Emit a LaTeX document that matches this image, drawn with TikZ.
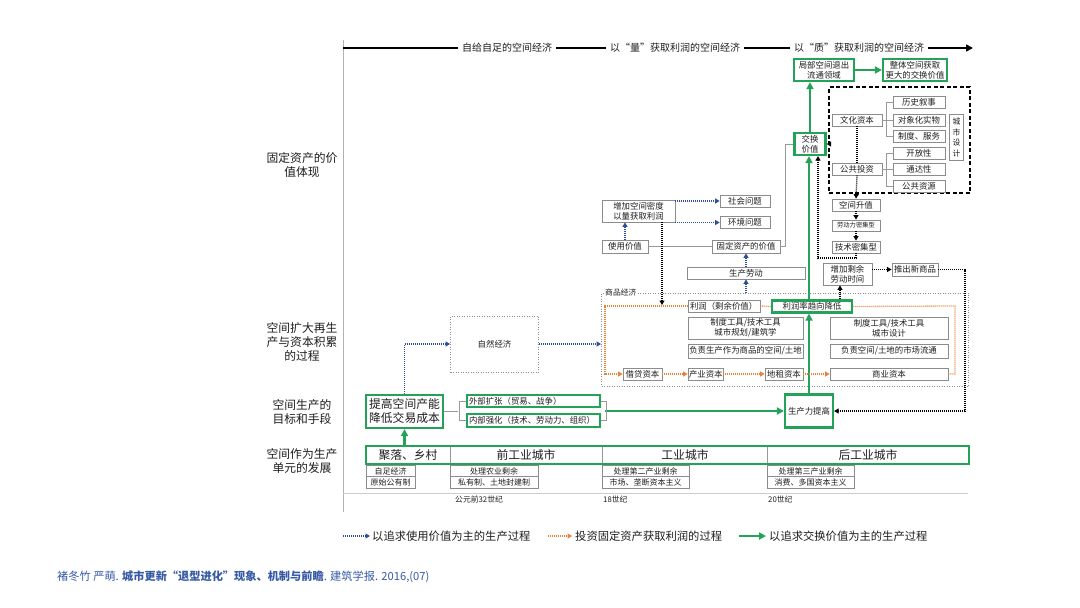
\documentclass[tikz,border=0pt]{standalone}
\usepackage{fontspec}
\setmainfont{Noto Sans CJK SC}
\usetikzlibrary{arrows.meta}
\definecolor{gn}{RGB}{35,163,88}
\definecolor{bl}{RGB}{45,80,150}
\definecolor{og}{RGB}{236,128,52}
\definecolor{tx}{RGB}{30,30,30}
\definecolor{citec}{RGB}{55,90,165}
\tikzset{
 box/.style={draw=black!45, line width=0.8pt, fill=white, inner sep=0pt, align=center, text=tx, font=\fontsize{8.4}{10}\selectfont},
 gbox/.style={draw=gn, line width=2.2pt, fill=white, inner sep=0pt, align=center, text=tx, font=\fontsize{8.4}{10}\selectfont},
 smallbox/.style={box, font=\fontsize{8}{9.5}\selectfont},
 tinyfont/.style={font=\fontsize{6.3}{7.5}\selectfont},
 bigfont/.style={font=\fontsize{11.8}{14}\selectfont},
 rowlab/.style={align=center, text=tx, font=\fontsize{11.8}{14}\selectfont},
 axlab/.style={fill=white, inner xsep=4pt, inner ysep=1pt, text=tx, font=\fontsize{10}{12}\selectfont},
 legfont/.style={text=tx, font=\fontsize{11.3}{13}\selectfont, inner sep=1pt},
 stip/.style={-{Triangle[length=4.5pt,width=5pt]}},
 gtip/.style={-{Triangle[length=7pt,width=7pt]}},
 bdot/.style={bl, line width=1.3pt, dash pattern=on 1pt off 1pt},
 kdot/.style={black, line width=1.3pt, dash pattern=on 1pt off 1pt},
 odot/.style={og, line width=1.3pt, dash pattern=on 1pt off 1pt},
 garr/.style={gn, line width=2.2pt},
 gline/.style={black!40, line width=0.7pt},
}
\begin{document}
\begin{tikzpicture}[x=1pt,y=-1pt]
\fill[white] (0,0) rectangle (1080,608);
\useasboundingbox (0,0) rectangle (1080,608);

% ---- frame lines
\draw[black!30, line width=0.8pt] (343,40) -- (343,512);
\coordinate (ax0) at (343,48);
\coordinate (ax1) at (973,48);
\draw[line width=1.6pt, gtip] (ax0) -- (ax1);
\node[axlab] (a1) at (507,48) {自给自足的空间经济};
\node[axlab] (a2) at (675,48) {以“量”获取利润的空间经济};
\node[axlab] (a3) at (859,48) {以“质”获取利润的空间经济};

% ---- row labels
\node[rowlab] (r1) at (302,165) {固定资产的价\\值体现};
\node[rowlab] (r2) at (302,342) {空间扩大再生\\产与资本积累\\的过程};
\node[rowlab] (r3) at (302,412) {空间生产的\\目标和手段};
\node[rowlab] (r4) at (302,461) {空间作为生产\\单元的发展};

% ---- top right
\node[gbox, minimum width=60pt, minimum height=22pt] (loc) at (824,70) {局部空间退出\\流通领域};
\node[gbox, minimum width=64pt, minimum height=22pt] (whole) at (915,70) {整体空间获取\\更大的交换价值};
\node[draw, line width=1.3pt, dash pattern=on 4pt off 2.5pt, minimum width=141pt, minimum height=106pt, inner sep=0pt] (cityd) at (899.5,140) {};
\node[box, minimum width=50pt, minimum height=12pt] (cult) at (857,120) {文化资本};
\node[box, minimum width=52pt, minimum height=12pt] (hist) at (919,102) {历史叙事};
\node[box, minimum width=52pt, minimum height=12pt] (obj) at (919,120) {对象化实物};
\node[box, minimum width=52pt, minimum height=12pt] (inst) at (919,136) {制度、服务};
\node[box, minimum width=50pt, minimum height=12pt] (pub) at (857,169) {公共投资};
\node[box, minimum width=52pt, minimum height=12pt] (open) at (919,153) {开放性};
\node[box, minimum width=52pt, minimum height=12pt] (acc) at (919,169) {通达性};
\node[box, minimum width=52pt, minimum height=12pt] (res) at (919,186) {公共资源};
\node[box, minimum width=14pt, minimum height=46pt, font=\fontsize{7.8}{10.5}\selectfont] (ud) at (956.5,137.5) {城\\市\\设\\计};
\node[gbox, minimum width=31pt, minimum height=22pt] (exch) at (810,144) {交换\\价值};

\node[box, minimum width=48pt, minimum height=12pt] (rise) at (856,205) {空间升值};
\node[box, minimum width=48pt, minimum height=11pt, tinyfont] (lab) at (856,225.5) {劳动力密集型};
\node[box, minimum width=48pt, minimum height=12pt] (tech) at (856,247) {技术密集型};
\node[box, minimum width=49pt, minimum height=22pt] (surp) at (847.5,274) {增加剩余\\劳动时间};
\node[box, minimum width=46pt, minimum height=13pt] (newp) at (915,269.5) {推出新商品};

% ---- middle
\node[box, minimum width=73pt, minimum height=22pt] (dens) at (638.5,211) {增加空间密度\\以量获取利润};
\node[box, minimum width=50pt, minimum height=12pt] (soc) at (745,201) {社会问题};
\node[box, minimum width=50pt, minimum height=12pt] (env) at (745,222.5) {环境问题};
\node[box, minimum width=46pt, minimum height=13pt] (use) at (625,246.5) {使用价值};
\node[box, minimum width=68pt, minimum height=13pt] (fix) at (746,246.5) {固定资产的价值};
\node[box, minimum width=118pt, minimum height=12pt] (lab2) at (746,273) {生产劳动};

% ---- commodity economy
\node[draw=black!45, line width=0.8pt, dash pattern=on 1pt off 1.5pt, minimum width=367pt, minimum height=93pt, inner sep=0pt] (sp) at (785,339.5) {};
\node[fill=white, inner sep=1pt, anchor=west, text=tx, font=\fontsize{7.8}{9}\selectfont] (splab) at (604,293) {商品经济};
\node[box, minimum width=72pt, minimum height=12pt, text width=68pt, align=left] (prof) at (724,306) {利润（剩余价值）};
\node[gbox, minimum width=80pt, minimum height=12pt] (fall) at (812,306.5) {利润率趋向降低};
\node[box, minimum width=115pt, minimum height=22pt] (tool1) at (745.5,328) {制度工具/技术工具\\城市规划/建筑学};
\node[box, minimum width=115pt, minimum height=14pt] (resp1) at (745.5,351) {负责生产作为商品的空间/土地};
\node[box, minimum width=118pt, minimum height=22pt] (tool2) at (889,328) {制度工具/技术工具\\城市设计};
\node[box, minimum width=118pt, minimum height=14pt] (resp2) at (889,351) {负责空间/土地的市场流通};
\node[box, minimum width=39pt, minimum height=12pt] (loan) at (642.5,374) {借贷资本};
\node[box, minimum width=35pt, minimum height=12pt, text width=33pt, align=left] (ind) at (705.5,374) {产业资本};
\node[box, minimum width=38pt, minimum height=12pt] (rent) at (784,374) {地租资本};
\node[box, minimum width=118pt, minimum height=12pt] (com) at (889,374) {商业资本};

% ---- lower
\node[draw=black!45, line width=0.8pt, dash pattern=on 1pt off 1.5pt, minimum width=88pt, minimum height=56pt, inner sep=0pt, text=tx, font=\fontsize{8.4}{10}\selectfont] (nat) at (494.5,344) {自然经济};
\node[gbox, minimum width=77pt, minimum height=33pt, bigfont] (goal) at (404.5,411.5) {提高空间产能\\降低交易成本};
\node[gbox, minimum width=133pt, minimum height=12pt, text width=129pt, align=left] (ext) at (533.5,401) {外部扩张（贸易、战争）};
\node[gbox, minimum width=133pt, minimum height=13pt, text width=129pt, align=left] (int) at (533.5,420.5) {内部强化（技术、劳动力、组织）};
\node[gbox, minimum width=48pt, minimum height=33pt] (prod) at (809,411) {生产力提高};

% ---- bottom bar
\node[draw=gn, line width=2.2pt, minimum width=603pt, minimum height=18pt, inner sep=0pt] (bar) at (667.5,455) {};
\coordinate (d1t) at (450,447); \coordinate (d1b) at (450,463);
\coordinate (d2t) at (602,447); \coordinate (d2b) at (602,463);
\coordinate (d3t) at (767,447); \coordinate (d3b) at (767,463);
\draw[gline] (d1t) -- (d1b);
\draw[gline] (d2t) -- (d2b);
\draw[gline] (d3t) -- (d3b);
\node[text=tx, bigfont] (s1) at (408,455) {聚落、乡村};
\node[text=tx, bigfont] (s2) at (526,455) {前工业城市};
\node[text=tx, bigfont] (s3) at (685,455) {工业城市};
\node[text=tx, bigfont] (s4) at (868,455) {后工业城市};

\node[smallbox, minimum width=49pt, minimum height=11.5pt] (b11) at (390.5,471) {自足经济};
\node[smallbox, minimum width=49pt, minimum height=11.5pt] (b12) at (390.5,482.5) {原始公有制};
\node[smallbox, minimum width=88pt, minimum height=11.5pt] (b21) at (494,471) {处理农业剩余};
\node[smallbox, minimum width=88pt, minimum height=11.5pt] (b22) at (494,482.5) {私有制、土地封建制};
\node[smallbox, minimum width=87pt, minimum height=11.5pt] (b31) at (645.5,471) {处理第二产业剩余};
\node[smallbox, minimum width=87pt, minimum height=11.5pt] (b32) at (645.5,482.5) {市场、垄断资本主义};
\node[smallbox, minimum width=87pt, minimum height=11.5pt] (b41) at (810.5,471) {处理第三产业剩余};
\node[smallbox, minimum width=87pt, minimum height=11.5pt] (b42) at (810.5,482.5) {消费、多国资本主义};

\coordinate (tl0) at (343,493); \coordinate (tl1) at (968,493);
\draw[black!20, line width=0.8pt] (tl0) -- (tl1);
\node[anchor=west, inner sep=0pt, text=tx, font=\fontsize{7.8}{9}\selectfont] (t1) at (455,499) {公元前32世纪};
\node[anchor=west, inner sep=0pt, text=tx, font=\fontsize{7.8}{9}\selectfont] (t2) at (603,499) {18世纪};
\node[anchor=west, inner sep=0pt, text=tx, font=\fontsize{7.8}{9}\selectfont] (t3) at (768,499) {20世纪};

% ================= connectors
% green flow
\draw[garr, gtip] (loc) -- (whole);
\draw[garr, gtip] (exch.north) -- (exch.north |- loc.south);
\draw[garr, gtip] (prod.north |- fall.north) -- (prod.north |- exch.south);
\draw[garr, gtip] (prod.north) -- (prod.north |- fall.south);
\draw[garr, gtip] (goal.south |- bar.north) -- (goal.south);
\coordinate (rb) at (605,411);
\draw[garr, gtip] (rb) -- (prod.west);

% brackets
\draw[gline] (cult.east) -- (obj.west);
\draw[gline] (hist.west) -- ++(-6,0) |- (inst.west);
\draw[gline] (pub.east) -- (acc.west);
\draw[gline] (open.west) -- ++(-6,0) |- (res.west);
\draw[gline] (goal.east) -- ++(14,0);
\draw[gline] (ext.west) -- ++(-7,0) |- (int.west);
\draw[gline] (ext.east) -- ++(5,0) |- (int.east);
\draw[gline] (use.east) -- (fix.west);
\draw[gline] (fix.east) -- ++(5,0) |- (exch.west);

% black dotted
\draw[kdot] (cult.south) -- (pub.north);
\draw[kdot, stip] (pub.south) -- (rise.north);
\draw[kdot, stip] (rise.south) -- (lab.north);
\draw[kdot, stip] (lab.south) -- (tech.north);
\coordinate (cr) at (818,258);
\draw[kdot, stip] (tech.south) |- (cr) -- (cr |- exch.south);
\draw[kdot, stip] (cityd.west |- exch.east) -- (exch.east);
\draw[kdot, stip] ([xshift=-7.5pt]surp.south |- fall.north) -- ([xshift=-7.5pt]surp.south);
\draw[kdot, stip] (surp.east |- newp.west) -- (newp.west);
\coordinate (cr2) at (965,269.5);
\draw[kdot, stip] (newp.east) -- (cr2) |- (prod.east);
\coordinate (pd) at (662,305);
\draw[kdot, stip] (dens.south -| pd) -- (pd);

% blue dotted
\draw[bdot, stip] (dens.east |- soc.west) -- (soc.west);
\draw[bdot, stip] (dens.east |- env.west) -- (env.west);
\draw[bdot, stip] (use.north) -- (use.north |- dens.south);
\draw[bdot, stip] (lab2.north) -- (fix.south);
\draw[bdot, stip] (lab2.south |- sp.north) -- (lab2.south);
\draw[bdot, stip] (goal.north) |- (nat.west);
\draw[bdot, stip] (nat.east) -- (sp.west |- nat.east);

% orange loop
\coordinate (o1) at (605,306);
\coordinate (o2) at (605,374);
\coordinate (o3) at (955,374);
\coordinate (o4) at (955,306);
\draw[odot, stip] (prof.west) -- (o1) -- (o2) -- (loan.west);
\draw[odot, stip] (loan.east) -- (ind.west);
\draw[odot, stip] (ind.east) -- (rent.west);
\draw[odot, stip] (rent.east) -- (com.west);
\draw[odot] (com.east) -- (o3) -- (o4) -- (fall.east);
\draw[odot] (prof.east) -- (fall.west);

% ---- legend
\coordinate (l1a) at (343,536); \coordinate (l1b) at (370,536);
\draw[bdot, stip] (l1a) -- (l1b);
\node[anchor=west, legfont] (lt1) at (371,536) {以追求使用价值为主的生产过程};
\coordinate (l2a) at (548,536); \coordinate (l2b) at (572,536);
\draw[odot, stip] (l2a) -- (l2b);
\node[anchor=west, legfont] (lt2) at (574,536) {投资固定资产获取利润的过程};
\coordinate (l3a) at (739,536); \coordinate (l3b) at (766,536);
\draw[garr, gtip] (l3a) -- (l3b);
\node[anchor=west, legfont] (lt3) at (768,536) {以追求交换价值为主的生产过程};

% ---- citation
\node[anchor=west, inner sep=0pt, text=citec, font=\fontsize{11.2}{13}\selectfont] (cite) at (57,577) {褚冬竹 严萌. \textbf{城市更新“退型进化”现象、机制与前瞻}. 建筑学报. 2016,(07)};
\end{tikzpicture}
\end{document}
